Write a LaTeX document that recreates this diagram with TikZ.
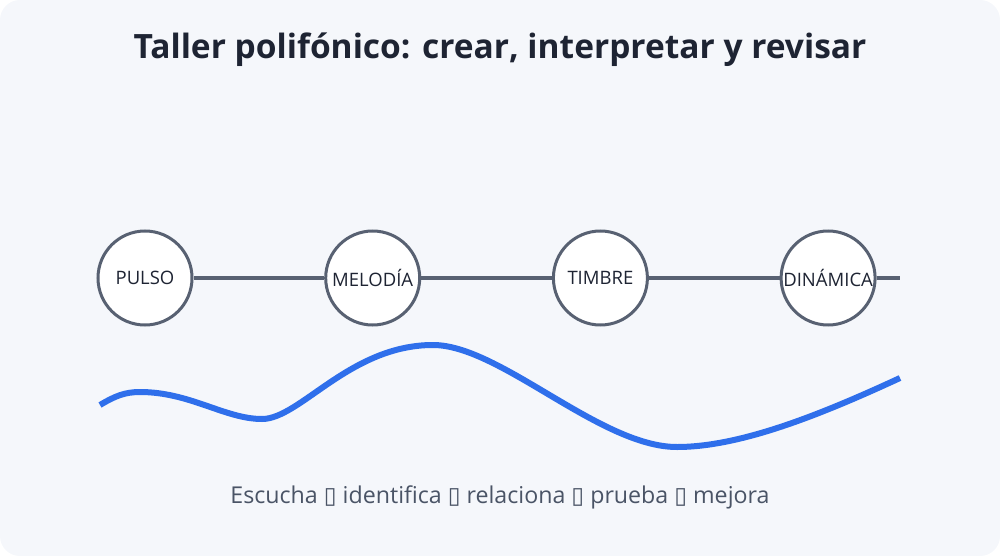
\documentclass[tikz,border=0pt]{standalone}
\usepackage{fontspec}
\setmainfont{Open Sans}
\newfontfamily\symfont{DejaVu Sans}
\usetikzlibrary{positioning}
\definecolor{bgpanel}{HTML}{F5F7FB}
\definecolor{inkdark}{HTML}{1E2433}
\definecolor{inkgray}{HTML}{4A5466}
\definecolor{ringgray}{HTML}{586172}
\definecolor{waveblue}{HTML}{2F6FEB}
\tikzset{
    stage/.style={
        draw=ringgray,
        line width=3pt,
        fill=white,
        circle,
        minimum size=94pt,
        inner sep=0pt,
        text=inkdark,
        font=\fontsize{18.5}{22}\selectfont,
    },
    link/.style={
        draw=ringgray,
        line width=4pt,
    }
}
\newcommand{\tofu}{{\symfont\char"25AF}}

\begin{document}
\begin{tikzpicture}[x=1pt, y=-1pt, node distance=130.7pt]
        \useasboundingbox (0,0) rectangle (1000,556);
        \fill[bgpanel] (0,0) [rounded corners=20pt] rectangle (1000,556);
        \node[text=inkdark, font=\fontsize{33.5}{40}\selectfont\bfseries] (title) at (500,50)
            {Taller polifónico: crear, interpretar y revisar};
        \node[stage] (pulso) at (145,278) {PULSO};
        \node[stage, right=of pulso] (melodia) {MELODÍA};
        \node[stage, right=of melodia] (timbre) {TIMBRE};
        \node[stage, right=of timbre] (dinamica) {DINÁMICA};
        \coordinate (tail) at (900,278);
        \draw[link] (pulso.east) to (melodia.west);
        \draw[link] (melodia.east) to (timbre.west);
        \draw[link] (timbre.east) to (dinamica.west);
        \draw[link] (dinamica.east) to (tail);
        % wave
        \draw[waveblue, line width=6pt] (100,405)
            .. controls (115,396) and (125,392) .. (140,392)
            .. controls (190,392) and (225,419) .. (262,419)
            .. controls (300,419) and (350,345) .. (433,345)
            .. controls (500,345) and (600,447) .. (677,447)
            .. controls (740,447) and (820,415) .. (900,378);
        \node[text=inkgray, font=\fontsize{23.2}{27}\selectfont] (steps) at (500,497)
            {Escucha \tofu{} identifica \tofu{} relaciona \tofu{} prueba \tofu{} mejora};
\end{tikzpicture}
\end{document}
